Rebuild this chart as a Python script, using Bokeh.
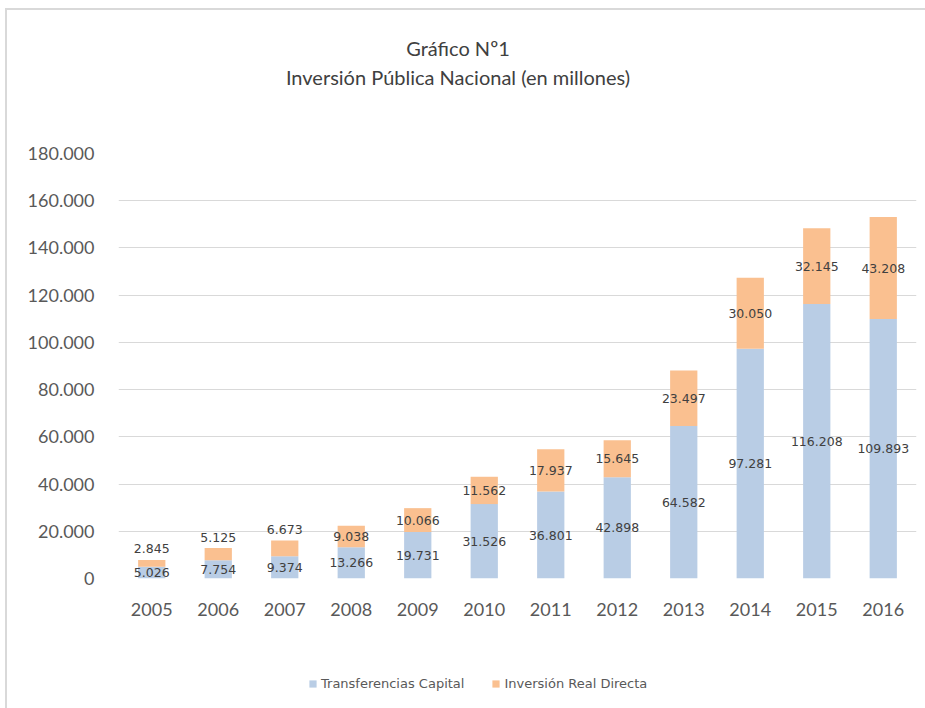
from bokeh.plotting import figure
from bokeh.layouts import column
from bokeh.models import (ColumnDataSource, FixedTicker, CustomJSTickFormatter, Div,
                          Legend, LegendItem)
from bokeh.core.properties import value
from bokeh.embed import file_html
from bokeh.resources import INLINE

years = ["2005", "2006", "2007", "2008", "2009", "2010", "2011", "2012", "2013", "2014", "2015", "2016"]
transferencias = [5026, 7754, 9374, 13266, 19731, 31526, 36801, 42898, 64582, 97281, 116208, 109893]
inversion_real = [2845, 5125, 6673, 9038, 10066, 11562, 17937, 15645, 23497, 30050, 32145, 43208]
y_ticks = [0, 20000, 40000, 60000, 80000, 100000, 120000, 140000, 160000, 180000]
title_lines = ["Gráfico Nº1", "Inversión Pública Nacional (en millones)"]
series_names = ["Transferencias Capital", "Inversión Real Directa"]

BLUE = "#b9cde5"
ORANGE = "#fac090"


def fmt(v):
    return f"{v:,}".replace(",", ".")


tops = [t + i for t, i in zip(transferencias, inversion_real)]
src = ColumnDataSource(dict(
    x=years, t=transferencias, i=inversion_real, top=tops,
    t_mid=[t / 2 for t in transferencias],
    t_lbl=[fmt(v) for v in transferencias],
))

p = figure(x_range=years, y_range=(0, 180000), frame_width=798, frame_height=425,
           min_border_left=111, min_border_right=9, min_border_top=53, min_border_bottom=60,
           output_backend="svg", toolbar_location=None)
p.outline_line_color = None
p.background_fill_color = "white"
p.border_fill_color = "white"

p.vbar(x="x", bottom=0, top="t", width=0.41, source=src, fill_color=BLUE, line_color=None)
p.vbar(x="x", bottom="t", top="top", width=0.41, source=src, fill_color=ORANGE, line_color=None)

lbl_font = value("DejaVu Sans")
p.text(x="x", y="t_mid", text="t_lbl", source=src, text_align="center", text_baseline="middle",
       text_font=lbl_font, text_font_size="12.5px", text_color="#404040")

# orange labels: centred in segment, or just above a short segment
small = [i < 8000 for i in inversion_real]
i_mid = [t + i / 2 for t, i in zip(transferencias, inversion_real)]
i_lbl = [fmt(v) for v in inversion_real]
src_i_in = ColumnDataSource(dict(
    x=[y for y, s in zip(years, small) if not s],
    y=[m for m, s in zip(i_mid, small) if not s],
    l=[l for l, s in zip(i_lbl, small) if not s]))
src_i_out = ColumnDataSource(dict(
    x=[y for y, s in zip(years, small) if s],
    y=[m for m, s in zip(tops, small) if s],
    l=[l for l, s in zip(i_lbl, small) if s]))
p.text(x="x", y="y", text="l", source=src_i_in, text_align="center", text_baseline="middle",
       text_font=lbl_font, text_font_size="12.5px", text_color="#404040")
p.text(x="x", y="y", text="l", source=src_i_out, text_align="center", text_baseline="middle",
       y_offset=-11, text_font=lbl_font, text_font_size="12.5px", text_color="#404040")

p.xgrid.grid_line_color = None
p.ygrid.grid_line_color = "#d9d9d9"
p.ygrid.grid_line_width = 1
p.yaxis.ticker = FixedTicker(ticks=y_ticks)
p.yaxis.formatter = CustomJSTickFormatter(
    code='return tick.toFixed(0).replace(/\\B(?=(\\d{3})+(?!\\d))/g, ".");')
for ax in (p.xaxis, p.yaxis):
    ax.axis_line_color = None
    ax.major_tick_line_color = None
    ax.minor_tick_line_color = None
    ax.major_label_text_font = "Lato"
    ax.major_label_text_font_size = "18px"
    ax.major_label_text_color = "#595959"
p.yaxis.major_label_standoff = 18
p.xaxis.major_label_standoff = 18

# legend strip below the chart (same series, zero-width so only the legend keys show)
lg = figure(width=918, height=70, x_range=years, y_range=(-2, -1),
            x_axis_type=None, y_axis_type=None, min_border=0,
            output_backend="svg", toolbar_location=None)
lg.outline_line_color = None
lg.grid.visible = False
k1 = lg.vbar(x="x", bottom=0, top="t", width=0, source=src, fill_color=BLUE, line_color=None)
k2 = lg.vbar(x="x", bottom="t", top="top", width=0, source=src, fill_color=ORANGE, line_color=None)
legend = Legend(items=[LegendItem(label=series_names[0], renderers=[k1], index=0),
                       LegendItem(label=series_names[1], renderers=[k2], index=0)],
                orientation="horizontal", location=(190, 17),
                glyph_width=9, glyph_height=9, label_text_font="DejaVu Sans",
                label_text_font_size="13px", label_text_color="#595959",
                border_line_color=None, background_fill_alpha=0, padding=0, margin=0,
                spacing=27, label_standoff=4)
lg.add_layout(legend, "center")

title = Div(text=("<div style='width:902px; text-align:center; padding-top:24px; "
                  "font-family:Lato; font-size:20px; line-height:29px; color:#404040;'>"
                  + "<br>".join(title_lines) + "</div>"),
            width=918, height=90, margin=0)

layout = column(title, p, lg, margin=(8, 0, 0, 5), spacing=0,
                styles={"border-left": "2px solid #d9d9d9", "border-top": "2px solid #d9d9d9"})

open("out.html", "w").write(file_html(layout, INLINE))
